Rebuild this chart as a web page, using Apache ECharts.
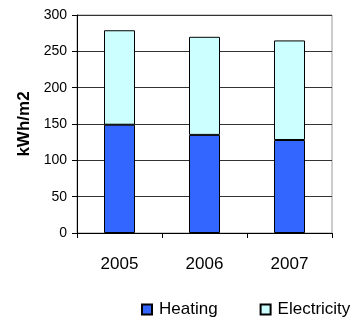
<!DOCTYPE html>
<html>
<head>
<meta charset="utf-8">
<script src="https://cdn.jsdelivr.net/npm/echarts@6/dist/echarts.min.js"></script>
<style>
  html, body { margin: 0; padding: 0; background: #fff; }
  #main { width: 362px; height: 318px; }
</style>
</head>
<body>
<div id="main"></div>
<script>
const years = ["2005", "2006", "2007"];
const heating = [149, 135, 128];
const electricity = [130, 135, 137];
const yTicks = { min: 0, max: 300, interval: 50 };

const chart = echarts.init(document.getElementById("main"));
const font = "Liberation Sans, Arial, sans-serif";

const option = {
  animation: false,
  textStyle: { fontFamily: font },
  grid: {
    left: 77, right: 30, top: 15, bottom: 85,
    show: true, borderColor: "#999", borderWidth: 1
  },
  legend: {
    top: 296,
    left: 136,
    itemWidth: 10,
    itemHeight: 10,
    itemGap: 42,
    icon: "rect",
    textStyle: { fontSize: 17, color: "#000", fontFamily: font, padding: [0, 0, 0, 2] },
    data: ["Heating", "Electricity"]
  },
  xAxis: {
    type: "category",
    data: years,
    axisLine: { lineStyle: { color: "#000" } },
    axisTick: { show: true, length: 5, lineStyle: { color: "#000" } },
    axisLabel: { color: "#000", fontSize: 17, margin: 23, fontFamily: font }
  },
  yAxis: {
    type: "value",
    min: yTicks.min,
    max: yTicks.max,
    interval: yTicks.interval,
    name: "kWh/m2",
    nameLocation: "middle",
    nameGap: 42,
    nameTextStyle: { fontSize: 17, fontWeight: "bold", color: "#000", fontFamily: font },
    axisLine: { show: true, lineStyle: { color: "#000" } },
    axisTick: { show: true, length: 5, lineStyle: { color: "#000" } },
    axisLabel: { color: "#000", fontSize: 14, margin: 10, fontFamily: font },
    splitLine: { lineStyle: { color: "#333", width: 1 } }
  },
  series: [
    {
      name: "Heating",
      type: "bar",
      stack: "total",
      barWidth: 31,
      data: heating,
      itemStyle: { color: "#3366FF", borderColor: "#000", borderWidth: 1 }
    },
    {
      name: "Electricity",
      type: "bar",
      stack: "total",
      barWidth: 31,
      data: electricity,
      itemStyle: { color: "#CCFFFF", borderColor: "#000", borderWidth: 1 }
    }
  ]
};

chart.setOption(option);
</script>
</body>
</html>
